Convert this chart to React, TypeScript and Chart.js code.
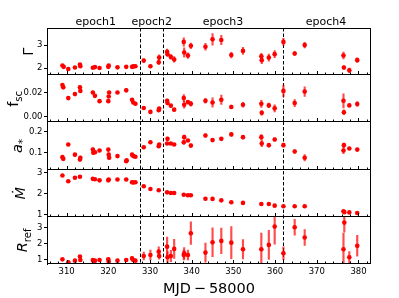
import React, { useEffect, useRef } from "react";
import { Chart, registerables } from "chart.js";
Chart.register(...registerables);

// ---------- axis / annotation values ----------
const xMin = 305.3;
const xMax = 383.0;
const xMajorTicks = [310, 320, 330, 340, 350, 360, 370, 380];
const xMinorTicks = [306, 308, 312, 314, 316, 318, 322, 324, 326, 328, 332, 334, 336, 338, 342, 344, 346, 348, 352, 354, 356, 358, 362, 364, 366, 368, 372, 374, 376, 378, 382];
const epochBounds = [327.7, 333.0, 362.0];
const epochNames = ["epoch1", "epoch2", "epoch3", "epoch4"];
const epochLabelX = [317.0, 330.4, 347.5, 372.2];
const xTitle = "MJD\u2009\u2212\u200958000";

// ---------- Gamma ----------
const gammaRange = [1.7, 3.74];
const gammaTicks = [2, 3];
const gammaX = [309.0, 309.3, 310.4, 312.0, 313.2, 313.3, 316.3, 316.8, 317.9, 320.0, 320.1, 322.2, 324.3, 325.7, 326.0, 326.5, 328.5, 330.1, 332.1, 332.2, 334.1, 334.2, 335.0, 335.8, 338.1, 338.2, 339.1, 339.8, 343.3, 345.0, 347.1, 349.5, 352.3, 356.7, 356.8, 358.5, 359.9, 362.0, 364.7, 367.1, 376.4, 376.5, 377.8, 379.7];
const gammaY = [2.12, 2.06, 1.97, 2.03, 2.16, 2.09, 2.02, 2.05, 2.01, 2.06, 2.12, 2.04, 2.06, 2.06, 2.08, 2.09, 2.33, 2.09, 2.26, 2.46, 2.71, 2.61, 2.49, 2.38, 3.14, 2.68, 2.55, 2.97, 2.93, 3.25, 3.22, 2.57, 2.75, 2.52, 2.35, 2.46, 2.61, 3.14, 2.64, 3.0, 2.55, 2.03, 1.91, 2.35];
const gammaErr = [0.05, 0.05, 0.04, 0.04, 0.05, 0.05, 0.04, 0.04, 0.04, 0.05, 0.05, 0.04, 0.04, 0.04, 0.04, 0.04, 0.08, 0.06, 0.1, 0.12, 0.12, 0.1, 0.1, 0.12, 0.18, 0.2, 0.12, 0.12, 0.15, 0.25, 0.2, 0.12, 0.15, 0.12, 0.15, 0.15, 0.15, 0.15, 0.08, 0.12, 0.15, 0.08, 0.1, 0.1];

// ---------- f_sc ----------
const fscRange = [-0.005, 0.035];
const fscTicks = [0.0, 0.02];
const fscX = [309.0, 309.2, 310.4, 312.0, 313.2, 313.3, 316.3, 316.8, 317.9, 320.0, 320.1, 320.2, 322.2, 324.3, 325.7, 326.0, 326.5, 328.5, 330.1, 332.1, 332.2, 334.1, 334.2, 335.0, 335.8, 338.1, 338.2, 339.1, 339.8, 343.3, 345.0, 347.1, 349.5, 352.3, 356.7, 356.8, 358.5, 359.9, 362.0, 364.7, 367.1, 376.4, 376.5, 377.8, 379.7];
const fscY = [0.0267, 0.0247, 0.0156, 0.019, 0.0247, 0.0217, 0.0203, 0.0175, 0.013, 0.013, 0.017, 0.0203, 0.0203, 0.0222, 0.0142, 0.0119, 0.0108, 0.0072, 0.0039, 0.0053, 0.0067, 0.0133, 0.0114, 0.0092, 0.0058, 0.0156, 0.01, 0.0122, 0.0108, 0.0133, 0.0119, 0.0142, 0.0081, 0.01, 0.0108, 0.0031, 0.0094, 0.0069, 0.0217, 0.0114, 0.0211, 0.0133, 0.0036, 0.0094, 0.0106];
const fscErr = [0.0012, 0.0012, 0.001, 0.001, 0.0012, 0.0012, 0.001, 0.001, 0.001, 0.001, 0.001, 0.001, 0.001, 0.0015, 0.001, 0.001, 0.001, 0.0008, 0.0008, 0.001, 0.001, 0.0015, 0.0015, 0.001, 0.001, 0.003, 0.003, 0.0015, 0.002, 0.002, 0.004, 0.004, 0.0015, 0.002, 0.003, 0.002, 0.002, 0.003, 0.005, 0.003, 0.004, 0.006, 0.002, 0.001, 0.002];

// ---------- a_* ----------
const aRange = [0.019, 0.243];
const aTicks = [0.1, 0.2];
const aX = [309.0, 309.2, 310.4, 312.0, 313.2, 313.3, 316.3, 316.4, 316.8, 317.9, 320.0, 320.1, 320.2, 322.2, 324.3, 324.4, 325.7, 326.0, 326.5, 328.5, 330.1, 332.1, 332.2, 334.1, 334.2, 335.0, 335.8, 338.1, 338.2, 339.1, 339.8, 343.3, 345.0, 347.1, 349.5, 352.3, 356.7, 356.8, 358.5, 359.9, 362.0, 364.7, 367.1, 376.4, 376.5, 377.8, 379.7];
const aY = [0.078, 0.07, 0.138, 0.09, 0.067, 0.075, 0.114, 0.099, 0.101, 0.11, 0.114, 0.09, 0.075, 0.083, 0.059, 0.063, 0.09, 0.083, 0.08, 0.125, 0.149, 0.13, 0.138, 0.143, 0.165, 0.143, 0.138, 0.149, 0.173, 0.157, 0.133, 0.181, 0.159, 0.165, 0.186, 0.173, 0.173, 0.143, 0.135, 0.162, 0.135, 0.105, 0.075, 0.11, 0.135, 0.119, 0.114];
const aErr = [0.008, 0.008, 0.006, 0.006, 0.008, 0.008, 0.008, 0.008, 0.006, 0.005, 0.006, 0.008, 0.006, 0.005, 0.006, 0.006, 0.006, 0.006, 0.005, 0.006, 0.006, 0.006, 0.006, 0.006, 0.008, 0.006, 0.006, 0.01, 0.01, 0.006, 0.008, 0.008, 0.008, 0.006, 0.008, 0.008, 0.012, 0.015, 0.008, 0.008, 0.01, 0.008, 0.015, 0.015, 0.01, 0.006, 0.006];

// ---------- Mdot ----------
const mdotRange = [0.9, 3.14];
const mdotTicks = [1, 2, 3];
const mdotX = [309.0, 310.4, 312.0, 313.2, 316.3, 316.8, 317.9, 320.0, 320.1, 322.2, 324.3, 325.7, 326.0, 326.5, 328.5, 330.1, 332.1, 334.1, 335.0, 335.8, 338.1, 339.1, 339.8, 343.3, 345.0, 347.1, 349.5, 352.3, 356.7, 358.5, 359.9, 362.0, 364.7, 367.1, 376.4, 376.6, 377.8, 379.7];
const mdotY = [2.86, 2.59, 2.75, 2.8, 2.7, 2.68, 2.63, 2.63, 2.67, 2.67, 2.67, 2.54, 2.53, 2.54, 2.35, 2.22, 2.16, 2.06, 2.03, 2.03, 1.95, 1.92, 1.92, 1.76, 1.75, 1.68, 1.59, 1.56, 1.51, 1.51, 1.43, 1.4, 1.4, 1.4, 1.16, 1.12, 1.11, 1.08];
const mdotErr = [0.03, 0.02, 0.02, 0.02, 0.02, 0.02, 0.02, 0.02, 0.02, 0.02, 0.02, 0.02, 0.02, 0.02, 0.02, 0.02, 0.02, 0.02, 0.02, 0.02, 0.02, 0.02, 0.02, 0.02, 0.02, 0.02, 0.02, 0.02, 0.02, 0.02, 0.02, 0.02, 0.02, 0.02, 0.03, 0.03, 0.02, 0.02];

// ---------- R_ref ----------
const rrefRange = [0.75, 3.69];
const rrefTicks = [1, 2, 3];
const rrefX = [309.0, 310.4, 312.0, 313.2, 313.3, 316.3, 316.5, 316.8, 317.9, 320.0, 320.1, 322.2, 324.3, 325.7, 326.0, 326.5, 328.5, 330.1, 332.1, 332.2, 334.1, 334.2, 335.0, 335.8, 338.1, 338.2, 339.1, 339.8, 343.3, 345.0, 347.1, 349.5, 352.3, 356.7, 358.5, 359.9, 362.0, 364.7, 367.1, 376.4, 376.6, 377.8, 379.7];
const rrefY = [1.04, 0.86, 0.96, 1.21, 1.0, 1.0, 0.9, 0.96, 1.0, 1.04, 0.9, 0.96, 1.0, 1.1, 1.0, 0.96, 1.25, 1.31, 1.52, 1.25, 1.83, 1.17, 1.25, 1.69, 1.31, 1.42, 1.31, 2.67, 1.46, 2.1, 2.19, 2.08, 1.67, 1.67, 1.94, 3.08, 1.42, 3.04, 2.4, 1.67, 3.33, 1.17, 1.88];
const rrefErr = [0.06, 0.05, 0.05, 0.08, 0.06, 0.06, 0.05, 0.06, 0.05, 0.08, 0.06, 0.05, 0.05, 0.1, 0.06, 0.05, 0.25, 0.3, 0.3, 0.2, 0.6, 0.35, 0.35, 0.6, 0.3, 0.35, 0.3, 0.7, 0.6, 0.9, 0.8, 1.0, 0.6, 1.0, 0.9, 1.1, 0.4, 0.5, 0.5, 1.0, 0.6, 0.35, 0.65];

type Part = { t: string; sub?: boolean; italic?: boolean };

const panels = [
  { id: "yG", x: gammaX, y: gammaY, err: gammaErr, range: gammaRange, ticks: gammaTicks, dec: 0, labelX: 28, label: [{ t: "\u0393" }] as Part[] },
  { id: "yF", x: fscX, y: fscY, err: fscErr, range: fscRange, ticks: fscTicks, dec: 2, labelX: 13, label: [{ t: "f" }, { t: "sc", sub: true }] as Part[] },
  { id: "yA", x: aX, y: aY, err: aErr, range: aRange, ticks: aTicks, dec: 1, labelX: 17, label: [{ t: "a", italic: true }, { t: "*", sub: true }] as Part[] },
  { id: "yM", x: mdotX, y: mdotY, err: mdotErr, range: mdotRange, ticks: mdotTicks, dec: 0, labelX: 20, label: [{ t: "\u1E40", italic: true }] as Part[] },
  { id: "yR", x: rrefX, y: rrefY, err: rrefErr, range: rrefRange, ticks: rrefTicks, dec: 0, labelX: 22, label: [{ t: "R", italic: true }, { t: "ref", sub: true }] as Part[] },
];

const FONT = "DejaVu Sans";

function drawRotLabel(ctx: CanvasRenderingContext2D, parts: Part[], cx: number, cy: number, size: number) {
  ctx.save();
  ctx.translate(cx, cy);
  ctx.rotate(-Math.PI / 2);
  const fonts = parts.map((p) => `${p.italic ? "italic " : ""}${p.sub ? size * 0.7 : size}px "${FONT}"`);
  let total = 0;
  const widths = parts.map((p, i) => {
    ctx.font = fonts[i];
    const w = ctx.measureText(p.t).width;
    total += w;
    return w;
  });
  let x = -total / 2;
  ctx.textBaseline = "alphabetic";
  ctx.textAlign = "left";
  ctx.fillStyle = "#000";
  const base = size * 0.36;
  parts.forEach((p, i) => {
    ctx.font = fonts[i];
    ctx.fillText(p.t, x, base + (p.sub ? size * 0.24 : 0));
    x += widths[i];
  });
  ctx.restore();
}

const decorPlugin = {
  id: "decor",
  beforeDatasetsDraw(chart: any) {
    const { ctx, chartArea: a, scales } = chart;
    ctx.save();
    ctx.strokeStyle = "#000";
    ctx.lineWidth = 1;
    ctx.setLineDash([3.5, 2]);
    for (const v of epochBounds) {
      const px = Math.round(scales.x.getPixelForValue(v)) + 0.5;
      ctx.beginPath();
      ctx.moveTo(px, a.top);
      ctx.lineTo(px, a.bottom);
      ctx.stroke();
    }
    ctx.restore();
  },
  afterDraw(chart: any) {
    const { ctx, chartArea: a, scales } = chart;
    ctx.save();
    ctx.strokeStyle = "#000";
    ctx.lineWidth = 1;
    const L = Math.round(a.left) + 0.5;
    const R = Math.round(a.right) - 0.5;
    ctx.strokeRect(L, Math.round(a.top) + 0.5, R - L, Math.round(a.bottom) - Math.round(a.top) - 1);
    panels.forEach((p, i) => {
      const s = scales[p.id];
      const yb = Math.round(s.bottom) - 0.5;
      if (i < panels.length - 1) {
        ctx.beginPath();
        ctx.moveTo(a.left, yb);
        ctx.lineTo(a.right, yb);
        ctx.stroke();
      }
      ctx.beginPath();
      for (const v of xMajorTicks) {
        const px = Math.round(scales.x.getPixelForValue(v)) + 0.5;
        ctx.moveTo(px, yb);
        ctx.lineTo(px, yb - 3.5);
      }
      for (const v of xMinorTicks) {
        const px = Math.round(scales.x.getPixelForValue(v)) + 0.5;
        ctx.moveTo(px, yb);
        ctx.lineTo(px, yb - 2);
      }
      ctx.stroke();
      drawRotLabel(ctx, p.label, p.labelX, (s.top + s.bottom) / 2, 14.5);
    });
    ctx.fillStyle = "#000";
    ctx.font = `11px "${FONT}"`;
    ctx.textAlign = "center";
    ctx.textBaseline = "alphabetic";
    epochNames.forEach((n, i) => {
      ctx.fillText(n, scales.x.getPixelForValue(epochLabelX[i]), 24.5);
    });
    ctx.font = `14.5px "${FONT}"`;
    ctx.fillText(xTitle, (a.left + a.right) / 2, 292.5);
    ctx.restore();
  },
};

export default function App() {
  const ref = useRef<HTMLCanvasElement | null>(null);
  useEffect(() => {
    if (!ref.current) return;
    Chart.defaults.font.family = FONT;
    const scales: any = {
      x: {
        type: "linear",
        min: xMin,
        max: xMax,
        offset: false,
        afterBuildTicks: (s: any) => {
          s.ticks = xMajorTicks.map((v) => ({ value: v }));
        },
        afterFit: (s: any) => {
          s.height = 34;
        },
        ticks: { font: { family: FONT, size: 8.5 }, color: "#000", padding: 2.5, maxRotation: 0, autoSkip: false, callback: (v: any) => String(v) },
        grid: { display: true, drawOnChartArea: false, drawTicks: false },
        border: { display: false },
      },
    };
    panels.forEach((p, i) => {
      scales[p.id] = {
        type: "linear",
        position: "left",
        stack: "panels",
        stackWeight: 1,
        weight: panels.length - i,
        min: p.range[0],
        max: p.range[1],
        afterBuildTicks: (s: any) => {
          s.ticks = p.ticks.map((v) => ({ value: v }));
        },
        afterFit: (s: any) => {
          s.width = 47;
        },
        ticks: { font: { family: FONT, size: 8.5 }, color: "#000", padding: 1.5, callback: (v: any) => Number(v).toFixed(p.dec) },
        grid: { drawOnChartArea: false, drawTicks: true, tickLength: 3, color: "#000", lineWidth: 1 },
        border: { display: true, color: "#000", width: 1 },
      };
    });
    const datasets: any[] = [];
    panels.forEach((p) => {
      datasets.push({
        type: "bar",
        xAxisID: "x",
        yAxisID: p.id,
        data: p.x.map((xv, i) => ({ x: xv, y: [p.y[i] - p.err[i], p.y[i] + p.err[i]] })),
        backgroundColor: "rgba(255,0,0,0.7)",
        borderWidth: 0,
        barThickness: 1.5,
        grouped: false,
      });
      datasets.push({
        type: "scatter",
        xAxisID: "x",
        yAxisID: p.id,
        data: p.x.map((xv, i) => ({ x: xv, y: p.y[i] })),
        backgroundColor: "#ff0000",
        borderWidth: 0,
        pointRadius: 2.3,
        showLine: false,
      });
    });
    const chart = new Chart(ref.current, {
      type: "scatter",
      data: { datasets },
      options: {
        animation: false,
        responsive: false,
        devicePixelRatio: 1,
        layout: { padding: { top: 28, right: 28, bottom: 0, left: 0 } },
        plugins: { legend: { display: false }, tooltip: { enabled: false } },
        events: [],
        scales,
      } as any,
      plugins: [decorPlugin],
    });
    return () => chart.destroy();
  }, []);
  return (
    <div style={{ position: "absolute", left: 0, top: 0, width: 399, height: 298, background: "#fff" }}>
      <canvas ref={ref} width={399} height={298} style={{ width: 399, height: 298, display: "block" }} />
    </div>
  );
}
